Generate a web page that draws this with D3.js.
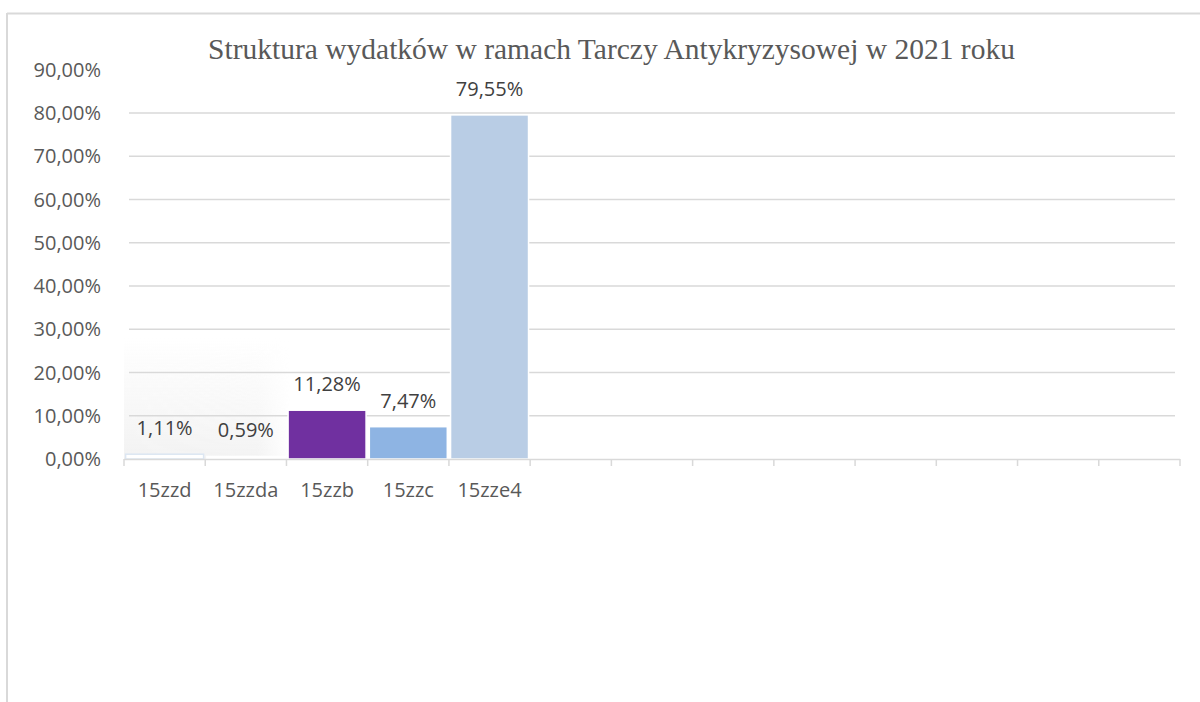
<!DOCTYPE html>
<html>
<head>
<meta charset="utf-8">
<script src="https://cdn.jsdelivr.net/npm/d3@7"></script>
<style>
  body { margin: 0; background: #fff; }
  svg { display: block; }
</style>
</head>
<body>
<script>
// chart data
const categories = ["15zzd", "15zzda", "15zzb", "15zzc", "15zze4"];
const values = [1.11, 0.59, 11.28, 7.47, 79.55];
const barColors = ["#ffffff", "#ffffff", "#7030a0", "#8eb4e3", "#b9cde5"];
const barStrokes = ["#dce6f2", "#ffffff", "#ffffff", "#ffffff", "#ffffff"];
const yTicks = [0, 10, 20, 30, 40, 50, 60, 70, 80, 90];
const slotCount = 13; // axis has empty slots after the data
const title = "Struktura wydatków w ramach Tarczy Antykryzysowej w 2021 roku";

const W = 1200, H = 702;
const plot = {left: 124, right: 1180, top: 69.7, bottom: 459};
const sans = "'Open Sans', 'DejaVu Sans', sans-serif";
const textCol = "#595959";
const gridCol = "#d9d9d9";

const fmt = v => d3.format(".2f")(v).replace(".", ",") + "%";

const svg = d3.select("body").append("svg")
    .attr("width", W)
    .attr("height", H);

// frame (only top and left edges visible)
svg.append("line").attr("x1", 7).attr("x2", W).attr("y1", 13.5).attr("y2", 13.5)
    .attr("stroke", gridCol).attr("stroke-width", 2);
svg.append("line").attr("x1", 7).attr("x2", 7).attr("y1", 13).attr("y2", H)
    .attr("stroke", gridCol).attr("stroke-width", 2);

const x = d3.scaleBand()
    .domain(d3.range(slotCount))
    .range([plot.left, plot.right])
    .paddingInner(0.04)
    .paddingOuter(0.02);

const y = d3.scaleLinear()
    .domain([0, 90])
    .range([plot.bottom, plot.top]);

// faint shadow patch behind the first bars
const defs = svg.append("defs");
const grad = defs.append("linearGradient").attr("id", "shade")
    .attr("x1", 0).attr("y1", 0).attr("x2", 0).attr("y2", 1);
grad.append("stop").attr("offset", "0%").attr("stop-color", "#f4f4f4").attr("stop-opacity", 0);
grad.append("stop").attr("offset", "55%").attr("stop-color", "#f5f5f5").attr("stop-opacity", 0.7);
grad.append("stop").attr("offset", "100%").attr("stop-color", "#f2f2f2").attr("stop-opacity", 1);
const gradH = defs.append("linearGradient").attr("id", "shadeMask")
    .attr("x1", 0).attr("y1", 0).attr("x2", 1).attr("y2", 0);
gradH.append("stop").attr("offset", "0%").attr("stop-color", "#fff").attr("stop-opacity", 1);
gradH.append("stop").attr("offset", "80%").attr("stop-color", "#fff").attr("stop-opacity", 0.9);
gradH.append("stop").attr("offset", "100%").attr("stop-color", "#fff").attr("stop-opacity", 0);
const shadeW = x.step() * 2.05, shadeTop = y(28);
defs.append("mask").attr("id", "fadeRight")
  .append("rect")
    .attr("x", plot.left).attr("y", shadeTop)
    .attr("width", shadeW).attr("height", plot.bottom - shadeTop)
    .attr("fill", "url(#shadeMask)");
svg.append("rect")
    .attr("x", plot.left)
    .attr("y", shadeTop)
    .attr("width", shadeW)
    .attr("height", plot.bottom - shadeTop)
    .attr("fill", "url(#shade)")
    .attr("mask", "url(#fadeRight)");

// gridlines (none at the top value)
svg.append("g").selectAll("line")
  .data(yTicks.filter(t => t > 0 && t < 90))
  .join("line")
    .attr("x1", plot.left + 5)
    .attr("x2", plot.right - 5)
    .attr("y1", d => y(d))
    .attr("y2", d => y(d))
    .attr("stroke", gridCol)
    .attr("stroke-width", 1.5);

// y labels
svg.append("g").selectAll("text")
  .data(yTicks)
  .join("text")
    .attr("x", 101)
    .attr("y", d => y(d))
    .attr("dy", "0.36em")
    .attr("text-anchor", "end")
    .attr("font-family", sans)
    .attr("font-size", 20)
    .attr("fill", textCol)
    .text(fmt);

// bars
const bars = categories.map((c, i) => ({cat: c, i: i, v: values[i]}));
svg.append("g").selectAll("rect")
  .data(bars)
  .join("rect")
    .attr("x", d => x(d.i))
    .attr("y", d => y(d.v))
    .attr("width", x.bandwidth())
    .attr("height", d => y(0) - y(d.v))
    .attr("fill", d => barColors[d.i])
    .attr("stroke", d => barStrokes[d.i])
    .attr("stroke-width", 1.5);

// x axis line + ticks at slot boundaries
const axis = svg.append("g");
axis.append("line")
    .attr("x1", plot.left).attr("x2", plot.right)
    .attr("y1", plot.bottom + 0.5).attr("y2", plot.bottom + 0.5)
    .attr("stroke", gridCol).attr("stroke-width", 1.5);
const slotW = (plot.right - plot.left) / slotCount;
axis.selectAll("line.tick")
  .data(d3.range(slotCount + 1))
  .join("line")
    .attr("class", "tick")
    .attr("x1", d => plot.left + d * slotW)
    .attr("x2", d => plot.left + d * slotW)
    .attr("y1", plot.bottom)
    .attr("y2", plot.bottom + 7)
    .attr("stroke", gridCol)
    .attr("stroke-width", 1.5);

// category labels
svg.append("g").selectAll("text")
  .data(bars)
  .join("text")
    .attr("x", d => x(d.i) + x.bandwidth() / 2)
    .attr("y", 497)
    .attr("text-anchor", "middle")
    .attr("font-family", sans)
    .attr("font-size", 20)
    .attr("fill", textCol)
    .text(d => d.cat);

// value labels
svg.append("g").selectAll("text")
  .data(bars)
  .join("text")
    .attr("x", d => x(d.i) + x.bandwidth() / 2)
    .attr("y", d => y(d.v) - 19)
    .attr("text-anchor", "middle")
    .attr("font-family", sans)
    .attr("font-size", 20)
    .attr("fill", "#404040")
    .text(d => fmt(d.v));

// title, sized to span the same width as the original
const t = svg.append("text")
    .attr("x", 611.5)
    .attr("y", 59)
    .attr("text-anchor", "middle")
    .attr("font-family", "'Liberation Serif', 'DejaVu Serif', serif")
    .attr("font-size", 24)
    .attr("fill", textCol)
    .text(title);
const tw = t.node().getComputedTextLength();
t.attr("font-size", 24 * 807 / tw);
</script>
</body>
</html>
